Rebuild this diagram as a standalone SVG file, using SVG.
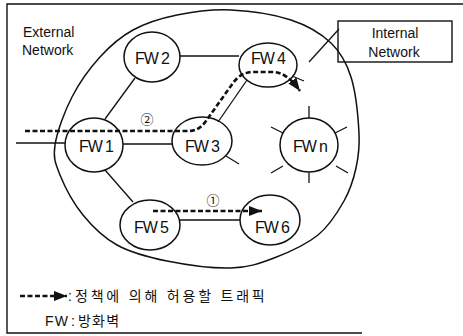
<svg xmlns="http://www.w3.org/2000/svg" width="463" height="336" viewBox="0 0 463 336">
<defs>
<marker id="ah" viewBox="0 0 13 10" refX="13" refY="5" markerWidth="13" markerHeight="10" markerUnits="userSpaceOnUse" orient="auto"><path d="M0,0 L13,5 L0,10 Z" fill="#111"/></marker>
</defs>
<style>
.node ellipse{fill:none;stroke:#111;stroke-width:1.5}
.tick{stroke:#111;stroke-width:1.3}
.lbl{font-family:"Liberation Sans",Arial,sans-serif;font-size:16px;letter-spacing:-1.1px;text-anchor:middle;fill:#111}
.ln{stroke:#111;stroke-width:1.3;fill:none}
.flow{stroke:#111;stroke-width:2.6;stroke-dasharray:5 2.5;fill:none}
.txt{font-family:"Liberation Sans",Arial,sans-serif;font-size:14px;fill:#111}
.kr{font-family:"Liberation Sans","Noto Sans CJK KR",sans-serif;font-size:14px;fill:#111}
.num{font-family:"Noto Sans CJK KR","DejaVu Sans",sans-serif;font-size:13px;text-anchor:middle;fill:#111}
</style>
<rect width="463" height="336" fill="#fff"/>
<path d="M463,4 H7 V333 H362" fill="none" stroke="#111" stroke-width="1.4"/>
<path id="region" fill="none" stroke="#111" stroke-width="1.5" d="M55,145 C57,132 64.5,111.3 72,97 C79.5,82.3 89.8,68.2 100,57 C110.2,45.8 120.2,37 133,30 C145.8,23 160.7,18.3 177,15 C193.3,11.7 212,9.2 231,10 C250,10.8 274.3,14.5 291,20 C307.7,25.5 321,33.5 331,43 C341,52.5 346.3,62 351,77 C355.7,92 358.2,117.8 359,133 C359.8,148.2 358.5,156.7 356,168 C353.5,179.3 350.3,189.8 344,201 C337.7,212.2 329.7,225.5 318,235 C306.3,244.5 288.5,252.5 274,258 C259.5,263.5 248.8,267.5 231,268 C213.2,268.5 186,264.8 167,261 C148,257.2 131,252.7 117,245 C103,237.3 92.5,226.7 83,215 C73.5,203.3 64.7,186.7 60,175 C55.3,163.3 53,158 55,145 Z"/>
<g id="external-label">
<text class="txt" x="23" y="37">External</text>
<text class="txt" x="22" y="55">Network</text>
</g>
<g id="connectors">
<path class="ln" d="M180,56 H239"/>
<path class="ln" d="M105,119 L135,78"/>
<path class="ln" d="M123,144 H172"/>
<path class="ln" d="M16,143 H65"/>
<path class="ln" d="M218,122 L247,80"/>
<path class="ln" d="M105,170 L133,202"/>
<path class="ln" d="M180,220 H240"/>
<path class="ln" d="M339,29 L309,62"/>
<path class="flow" d="M25,131 H189 Q199,131 206,121 L233,83 Q241,72 253,72 L272,72 C284,72 292,80 300,91" marker-end="url(#ah)"/>
<path class="flow" d="M153,211 H262" marker-end="url(#ah)"/>
<text class="num" x="147" y="123.5">②</text>
<text class="num" x="213" y="204.5">①</text>
</g>
<g id="fw1" class="node"><ellipse cx="94" cy="145" rx="29" ry="27"/><text class="lbl" x="96" y="152">FW 1</text></g>
<g id="fw2" class="node"><ellipse cx="152" cy="57" rx="28" ry="25"/><text class="lbl" x="152" y="64">FW 2</text></g>
<g id="fw3" class="node"><ellipse cx="202" cy="141" rx="30" ry="24"/><line class="tick" x1="226" y1="156" x2="239" y2="164"/><text class="lbl" x="202" y="152">FW 3</text></g>
<g id="fw4" class="node"><ellipse cx="268" cy="65" rx="29" ry="22"/><line class="tick" x1="292" y1="76" x2="304" y2="81"/><text class="lbl" x="268" y="64">FW 4</text></g>
<g id="fwn" class="node"><ellipse cx="309" cy="145" rx="29" ry="27"/>
<path class="tick" d="M309,106 V118 M309,172 V183 M271,127 L283,133 M347,127 L335,133 M271,173 L283,166 M348,173 L336,166"/>
<text class="lbl" x="310" y="152">FW n</text></g>
<g id="fw5" class="node"><ellipse cx="150" cy="225" rx="30" ry="25"/><text class="lbl" x="151" y="233">FW 5</text></g>
<g id="fw6" class="node"><ellipse cx="270" cy="220" rx="30" ry="25"/><text class="lbl" x="272" y="233">FW 6</text></g>
<g id="internal-network">
<rect x="338" y="21" width="114" height="41" fill="none" stroke="#111" stroke-width="1.4"/>
<text class="txt" x="395" y="38" text-anchor="middle">Internal</text>
<text class="txt" x="394" y="57" text-anchor="middle">Network</text>
</g>
<g id="legend">
<path class="flow" d="M20,296 H67" marker-end="url(#ah)"/>
<text class="kr" y="301"><tspan x="68">:</tspan><tspan x="75" letter-spacing="2.8">정책에 의해 허용할 트래픽</tspan></text>
<text class="kr" y="326" letter-spacing="1.2"><tspan x="45">FW</tspan><tspan x="71">:</tspan><tspan x="78">방화벽</tspan></text>
</g>
</svg>
